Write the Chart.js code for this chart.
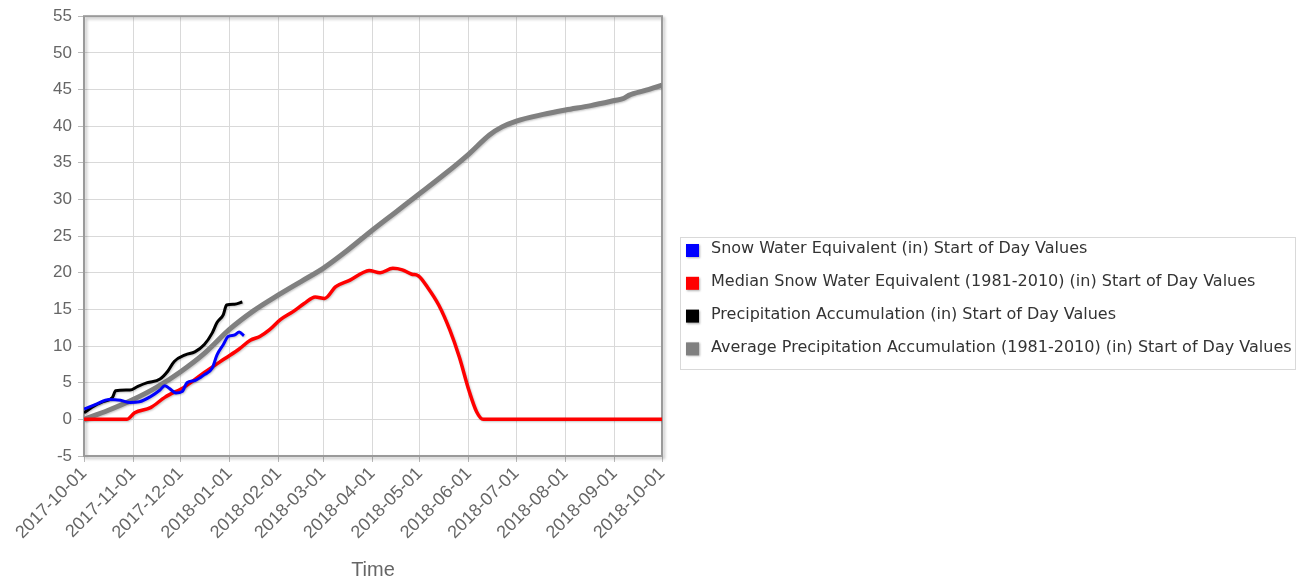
<!DOCTYPE html>
<html>
<head>
<meta charset="utf-8">
<script src="https://cdn.jsdelivr.net/npm/chart.js@4.4.1/dist/chart.umd.min.js"></script>
<style>
  html, body { margin: 0; padding: 0; background: #fff; }
  #wrap { width: 1312px; height: 582px; }
</style>
</head>
<body>
<div id="wrap"><canvas id="chart" width="1312" height="582"></canvas></div>
<script>
// days counted from 2017-10-01
const monthDays = [0, 31, 61, 92, 123, 151, 182, 212, 243, 273, 304, 335, 365];
const monthLabels = ['2017-10-01', '2017-11-01', '2017-12-01', '2018-01-01', '2018-02-01', '2018-03-01',
  '2018-04-01', '2018-05-01', '2018-06-01', '2018-07-01', '2018-08-01', '2018-09-01', '2018-10-01'];
const yTicks = [-5, 0, 5, 10, 15, 20, 25, 30, 35, 40, 45, 50, 55];

const seriesNames = [
  'Snow Water Equivalent (in) Start of Day Values',
  'Median Snow Water Equivalent (1981-2010) (in) Start of Day Values',
  'Precipitation Accumulation (in) Start of Day Values',
  'Average Precipitation Accumulation (1981-2010) (in) Start of Day Values'
];

const sweDays = [0, 7, 16, 23, 29, 35, 42, 48, 51, 54, 58, 62, 65, 70, 76, 81, 84, 88, 91, 95, 98, 101];
const sweValues = [1.4, 2.0, 2.7, 2.6, 2.3, 2.4, 3.1, 4.0, 4.6, 4.2, 3.6, 3.8, 5.0, 5.3, 6.1, 7.0, 8.8, 10.2, 11.3, 11.5, 11.9, 11.4];

const medianDays = [0, 27, 32, 42, 51, 64, 76, 89, 98, 105, 111, 117, 124, 132, 139, 146, 152, 159, 168, 176, 180,
  187, 195, 201, 207, 211, 217, 224, 231, 237, 243, 248, 252, 365];
const medianValues = [0, 0, 0.9, 1.6, 3.0, 4.5, 6.4, 8.3, 9.6, 10.8, 11.3, 12.2, 13.6, 14.7, 15.8, 16.7, 16.5, 18.1, 19.0, 20.0, 20.3,
  20.0, 20.6, 20.4, 19.8, 19.6, 18.0, 15.6, 12.2, 8.5, 4.0, 1.0, 0, 0];

const precipDays = [0, 7, 12, 18, 20, 29, 34, 40, 48, 53, 57, 64, 70, 76, 81, 84, 88, 90, 95, 100];
const precipValues = [0.9, 1.9, 2.4, 3.0, 3.9, 4.0, 4.5, 5.0, 5.5, 6.6, 7.9, 8.8, 9.2, 10.2, 11.8, 13.2, 14.3, 15.6, 15.7, 16.0];

const avgDays = [0, 15, 31, 46, 61, 76, 92, 107, 123, 137, 151, 166, 182, 197, 212, 228, 243, 256, 264, 273,
  290, 304, 320, 335, 341, 344, 355, 365];
const avgValues = [0, 1.2, 2.7, 4.4, 6.5, 9.0, 12.3, 14.8, 17.0, 18.8, 20.6, 23.0, 25.8, 28.3, 30.8, 33.5, 36.2, 38.8, 39.9, 40.7,
  41.6, 42.2, 42.8, 43.5, 43.8, 44.2, 44.9, 45.6];

const seriesColors = ['#0000ff', '#ff0000', '#000000', '#808080'];

function points(days, values) {
  return days.map((d, i) => ({ x: d, y: values[i] }));
}

// plot frame with a soft shadow, drawn under the lines
const frame = {
  id: 'frame',
  beforeDatasetsDraw(chart) {
    const { ctx, chartArea: a } = chart;
    ctx.save();
    ctx.shadowColor = 'rgba(0,0,0,0.25)';
    ctx.shadowBlur = 3;
    ctx.shadowOffsetX = 2;
    ctx.shadowOffsetY = 2;
    ctx.strokeStyle = '#9a9a9a';
    ctx.lineWidth = 2;
    ctx.strokeRect(a.left, a.top, a.right - a.left, a.bottom - a.top);
    ctx.restore();
    ctx.save();
    ctx.shadowColor = 'rgba(0,0,0,0.22)';
    ctx.shadowBlur = 2;
    ctx.shadowOffsetX = 1;
    ctx.shadowOffsetY = 1;
  },
  afterDatasetsDraw(chart) {
    chart.ctx.restore();
  }
};

// boxed legend on the right
const sideLegend = {
  id: 'sideLegend',
  afterDraw(chart) {
    const ctx = chart.ctx;
    ctx.save();
    ctx.strokeStyle = '#d9d9d9';
    ctx.lineWidth = 1;
    ctx.strokeRect(680.5, 237.5, 615, 132);
    ctx.font = '16px "DejaVu Sans"';
    ctx.textBaseline = 'middle';
    chart.data.datasets.forEach((ds, i) => {
      const y = 249 + i * 32.8;
      ctx.save();
      ctx.shadowColor = 'rgba(0,0,0,0.3)';
      ctx.shadowBlur = 2;
      ctx.shadowOffsetX = 1;
      ctx.shadowOffsetY = 1;
      ctx.fillStyle = ds.borderColor;
      ctx.fillRect(686, y - 5, 13, 13);
      ctx.restore();
      ctx.fillStyle = '#333';
      ctx.fillText(ds.label, 711, y);
    });
    ctx.restore();
  }
};

new Chart(document.getElementById('chart'), {
  type: 'line',
  data: {
    datasets: [
      { label: seriesNames[0], data: points(sweDays, sweValues), borderColor: seriesColors[0], borderWidth: 3 },
      { label: seriesNames[1], data: points(medianDays, medianValues), borderColor: seriesColors[1], borderWidth: 3.5 },
      { label: seriesNames[2], data: points(precipDays, precipValues), borderColor: seriesColors[2], borderWidth: 3 },
      { label: seriesNames[3], data: points(avgDays, avgValues), borderColor: seriesColors[3], borderWidth: 5 }
    ].map(ds => Object.assign(ds, {
      pointRadius: 0, cubicInterpolationMode: 'monotone', fill: false, backgroundColor: ds.borderColor
    }))
  },
  options: {
    responsive: false,
    animation: false,
    devicePixelRatio: 1,
    layout: { padding: { top: 16, right: 650, left: 0, bottom: 0 } },
    plugins: { legend: { display: false }, tooltip: { enabled: false } },
    scales: {
      x: {
        type: 'linear',
        min: 0,
        max: 365,
        afterBuildTicks: s => { s.ticks = monthDays.map(v => ({ value: v })); },
        afterFit: s => { s.height = 126; },
        ticks: {
          autoSkip: false,
          minRotation: 45,
          maxRotation: 45,
          color: '#666',
          padding: 1,
          font: { family: '"Liberation Sans", Arial', size: 18 },
          callback: (v, i) => monthLabels[i]
        },
        grid: { color: '#d9d9d9', tickColor: '#bbb', tickLength: 6 },
        border: { display: false },
        title: {
          display: true,
          text: 'Time',
          color: '#666',
          font: { family: '"Liberation Sans", Arial', size: 20 },
          padding: { top: 0, bottom: 0 }
        }
      },
      y: {
        min: -5,
        max: 55,
        afterBuildTicks: s => { s.ticks = yTicks.map(v => ({ value: v })); },
        afterFit: s => { s.width = 84; },
        ticks: {
          color: '#666',
          padding: 6,
          font: { family: '"Liberation Sans", Arial', size: 17 }
        },
        grid: { color: '#d9d9d9', tickColor: '#bbb', tickLength: 6 },
        border: { display: false }
      }
    }
  },
  plugins: [frame, sideLegend]
});
</script>
</body>
</html>
